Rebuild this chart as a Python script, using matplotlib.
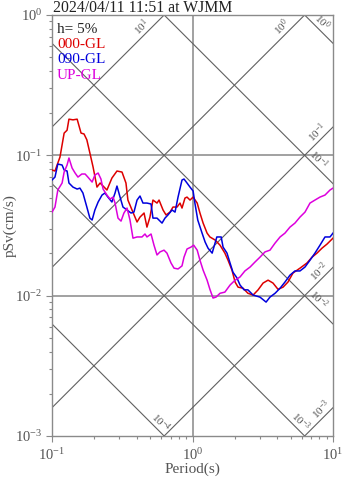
import numpy as np
import matplotlib
matplotlib.use("Agg")
import matplotlib.pyplot as plt

plt.rcParams["font.family"] = ["Liberation Serif", "DejaVu Serif"]

# pseudo-velocity response spectra, h = 5%
title = "2024/04/11 11:51 at WJMM"

ns_period = [0.100, 0.105, 0.114, 0.122, 0.128, 0.132, 0.141, 0.151, 0.161, 0.169,
             0.177, 0.186, 0.196, 0.209, 0.220, 0.231, 0.246, 0.267, 0.290, 0.315,
             0.336, 0.347, 0.371, 0.403, 0.423, 0.452, 0.474, 0.498, 0.523, 0.559,
             0.578, 0.617, 0.648, 0.692, 0.726, 0.776, 0.815, 0.842, 0.884, 0.914,
             0.960, 1.01, 1.08, 1.13, 1.19, 1.27, 1.33, 1.45, 1.57, 1.70,
             1.79, 1.91, 2.01, 2.11, 2.29, 2.48, 2.70, 2.93, 3.18, 3.45,
             3.74, 4.06, 4.41, 4.78, 5.19, 5.82, 6.53, 7.09, 7.69, 8.35,
             9.06, 10.0]
ns_psv = [0.0786, 0.0773, 0.0973, 0.144, 0.151, 0.181, 0.179, 0.181, 0.144, 0.142,
          0.129, 0.104, 0.0826, 0.0594, 0.0635, 0.0604, 0.0566, 0.0689, 0.0773, 0.0760,
          0.0635, 0.0480, 0.0408, 0.0335, 0.0363, 0.0388, 0.0308, 0.0363, 0.0480, 0.0457,
          0.0480, 0.0408, 0.0376, 0.0394, 0.0428, 0.0428, 0.0457, 0.0421, 0.0496, 0.0504,
          0.0480, 0.0504, 0.0457, 0.0388, 0.0329, 0.0279, 0.0262, 0.0249, 0.0229, 0.0201,
          0.0179, 0.0152, 0.0125, 0.0115, 0.0113, 0.0104, 0.0101, 0.0110, 0.0123, 0.0129,
          0.0123, 0.0111, 0.0115, 0.0125, 0.0145, 0.0157, 0.0171, 0.0188, 0.0201, 0.0218,
          0.0233, 0.0257]

ew_period = [0.100, 0.105, 0.110, 0.118, 0.122, 0.128, 0.132, 0.141, 0.151, 0.158,
             0.166, 0.177, 0.186, 0.193, 0.202, 0.213, 0.227, 0.238, 0.250, 0.267,
             0.281, 0.290, 0.305, 0.320, 0.342, 0.365, 0.383, 0.403, 0.423, 0.444,
             0.474, 0.507, 0.523, 0.559, 0.607, 0.637, 0.669, 0.715, 0.751, 0.789,
             0.842, 0.870, 0.914, 0.960, 1.01, 1.04, 1.09, 1.17, 1.23, 1.29,
             1.38, 1.42, 1.49, 1.60, 1.65, 1.76, 1.85, 1.94, 2.07, 2.18,
             2.33, 2.48, 2.70, 3.02, 3.34, 3.56, 3.87, 4.20, 4.55, 4.94,
             5.36, 5.82, 6.32, 6.86, 7.44, 8.08, 8.77, 9.52, 10.0]
ew_psv = [0.0667, 0.0700, 0.0867, 0.0853, 0.0786, 0.0773, 0.0635, 0.0594, 0.0575, 0.0584,
          0.0539, 0.0428, 0.0357, 0.0346, 0.0408, 0.0465, 0.0521, 0.0539, 0.0504, 0.0465,
          0.0539, 0.0604, 0.0504, 0.0428, 0.0408, 0.0388, 0.0394, 0.0480, 0.0513, 0.0457,
          0.0457, 0.0450, 0.0357, 0.0357, 0.0329, 0.0357, 0.0376, 0.0408, 0.0394, 0.0504,
          0.0667, 0.0678, 0.0635, 0.0594, 0.0557, 0.0457, 0.0346, 0.0279, 0.0241, 0.0218,
          0.0201, 0.0222, 0.0262, 0.0262, 0.0222, 0.0201, 0.0171, 0.0147, 0.0134, 0.0119,
          0.0110, 0.0110, 0.0101, 0.00977, 0.00900, 0.00977, 0.0104, 0.0113, 0.0125, 0.0140,
          0.0150, 0.0150, 0.0160, 0.0179, 0.0201, 0.0229, 0.0262, 0.0262, 0.0279]

ud_period = [0.100, 0.105, 0.110, 0.118, 0.122, 0.128, 0.132, 0.139, 0.146, 0.153,
             0.163, 0.172, 0.180, 0.193, 0.202, 0.213, 0.223, 0.231, 0.246, 0.259,
             0.272, 0.281, 0.295, 0.310, 0.325, 0.342, 0.359, 0.377, 0.403, 0.437,
             0.459, 0.474, 0.507, 0.532, 0.559, 0.587, 0.627, 0.658, 0.703, 0.739,
             0.789, 0.842, 0.870, 0.914, 0.976, 1.02, 1.08, 1.13, 1.19, 1.27,
             1.33, 1.40, 1.47, 1.57, 1.70, 1.85, 2.01, 2.18, 2.36, 2.57,
             2.79, 3.02, 3.28, 3.56, 3.87, 4.20, 4.55, 4.94, 5.36, 5.82,
             6.32, 6.86, 7.44, 8.08, 8.77, 9.52, 10.0]
ud_psv = [0.0394, 0.0428, 0.0566, 0.0635, 0.0760, 0.0853, 0.0957, 0.0812, 0.0748, 0.0700,
          0.0736, 0.0736, 0.0700, 0.0645, 0.0724, 0.0748, 0.0678, 0.0575, 0.0521, 0.0488,
          0.0504, 0.0457, 0.0357, 0.0340, 0.0388, 0.0421, 0.0346, 0.0257, 0.0262, 0.0262,
          0.0275, 0.0262, 0.0275, 0.0229, 0.0195, 0.0205, 0.0211, 0.0201, 0.0171, 0.0157,
          0.0155, 0.0163, 0.0188, 0.0215, 0.0222, 0.0229, 0.0211, 0.0179, 0.0152, 0.0129,
          0.0111, 0.00962, 0.00977, 0.0104, 0.0106, 0.0119, 0.0129, 0.0136, 0.0150, 0.0160,
          0.0174, 0.0188, 0.0205, 0.0211, 0.0237, 0.0262, 0.0279, 0.0308, 0.0329, 0.0363,
          0.0394, 0.0457, 0.0480, 0.0504, 0.0521, 0.0566, 0.0584]

components = ["000-GL", "090-GL", "UP-GL"]
colors = ["#dd0000", "#0000dd", "#dd00dd"]

# tripartite guide lines: constant Sa (gal) and constant Sd (cm)
sa_levels = [1e1, 1e0, 1e-1, 1e-2, 1e-3]
sa_label_period = [0.474, 4.71, 8.35, 8.63, 8.92]
sd_levels = [1e0, 1e-1, 1e-2, 1e-3, 1e-4]
sd_label_period = [7.63, 7.26, 7.26, 5.41, 0.550]

fig = plt.figure(figsize=(3.47, 4.78), dpi=100)
ax = fig.add_axes([52 / 347, 42 / 478, 281 / 347, 421 / 478])
ax.set_xscale("log")
ax.set_yscale("log")
ax.set_xlim(0.1, 10)
ax.set_ylim(1e-3, 1)

grid_c = "#9a9a9a"
diag_c = "#606060"
ax.axvline(1.0, color=grid_c, lw=1.3, zorder=1)
for v in (1e-1, 1e-2):
    ax.axhline(v, color=grid_c, lw=1.3, zorder=1)

tt = np.logspace(-1, 1, 50)
two_pi = 2 * np.pi
for a in sa_levels:
    ax.plot(tt, a * tt / two_pi, color=diag_c, lw=0.8, zorder=1)
for d in sd_levels:
    ax.plot(tt, two_pi * d / tt, color=diag_c, lw=0.8, zorder=1)


def exp_label(v):
    return r"$\mathdefault{10^{%d}}$" % round(np.log10(v))


for a, t in zip(sa_levels, sa_label_period):
    ax.text(t, a * t / two_pi, exp_label(a), rotation=45, rotation_mode="anchor",
            ha="center", va="bottom", fontsize=8, color="#555555", zorder=2)
for d, t in zip(sd_levels, sd_label_period):
    ax.text(t, two_pi * d / t, exp_label(d), rotation=-45, rotation_mode="anchor",
            ha="center", va="bottom", fontsize=8, color="#555555", zorder=2)

for per, sv, c in zip([ns_period, ew_period, ud_period], [ns_psv, ew_psv, ud_psv], colors):
    ax.plot(per, sv, color=c, lw=1.1, zorder=3)

# legend block in the upper-left corner
ax.text(0.018, 0.957, "h= 5%", transform=ax.transAxes, fontsize=11, color="#222222")
for i, (name, c) in enumerate(zip(components, colors)):
    ax.text(0.018, 0.921 - 0.036 * i, name, transform=ax.transAxes, fontsize=11, color=c)

for s in ax.spines.values():
    s.set_color("#8a8a8a")
    s.set_linewidth(1.0)
ax.tick_params(which="major", direction="out", length=4, width=0.8, color="#8a8a8a",
               labelsize=10.5, labelcolor="#555555")
ax.tick_params(which="minor", direction="out", length=2.3, width=0.8, color="#8a8a8a")
ax.tick_params(axis="x", pad=4)
ax.tick_params(axis="y", pad=3)

ax.set_xlabel("Period(s)", fontsize=11, color="#555555", labelpad=0)
ax.set_ylabel("pSv(cm/s)", fontsize=11, color="#555555")
ax.yaxis.set_label_coords(-0.125, 0.5)

fig.text(53 / 347, 1 - 11.5 / 478, title, fontsize=11.3, color="#222222", va="baseline")

fig.savefig("out.png", dpi=100)
